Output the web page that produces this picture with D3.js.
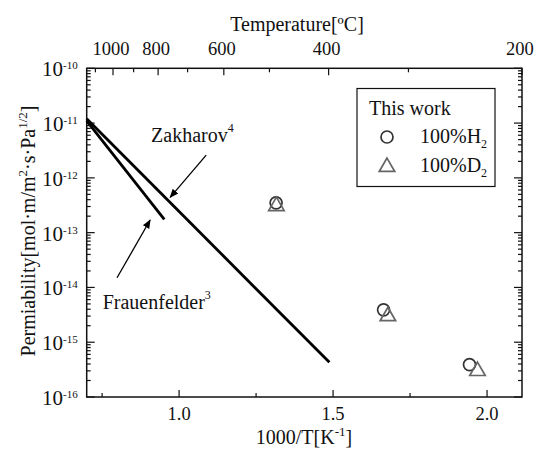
<!DOCTYPE html>
<html>
<head>
<meta charset="utf-8">
<script src="https://cdn.jsdelivr.net/npm/d3@7"></script>
<style>
  body { margin: 0; background: #fff; }
  text { font-family: "Liberation Serif", "Times New Roman", serif; fill: #111; }
</style>
</head>
<body>
<div id="chart"></div>
<script>
// measured points (This work)
var h2X = [1.315, 1.664, 1.943];
var h2Y = [3.5e-13, 3.9e-15, 3.9e-16];
var d2X = [1.316, 1.678, 1.969];
var d2Y = [3.05e-13, 2.98e-15, 2.98e-16];

// literature lines
var zakharovX = [0.7, 1.488];
var zakharovY = [1.2e-11, 4.3e-16];
var frauenX = [0.7, 0.952];
var frauenY = [1.1e-11, 1.75e-13];

// ticks
var xMajor = [1.0, 1.5, 2.0];
var xMinor = [0.75, 1.25, 1.75];
var yExp = [-16, -15, -14, -13, -12, -11, -10];
var tempMajor = [1000, 800, 600, 400, 200];
var tempMinor = [1100, 900, 700, 500, 300];

// annotations: [label, sup, textX, textY, tailX, tailY, tipX, tipY]
var notes = [
  ["Zakharov", "4", 0.909, 4.5e-12, 1.088, 2.6e-12, 0.971, 4.4e-13],
  ["Frauenfelder", "3", 0.752, 4.1e-15, 0.7985, 1.5e-14, 0.906, 1.7e-13]
];

var W = 534, H = 454;
var margin = {top: 68.3, right: 12, bottom: 57, left: 86.7};
var width = W - margin.left - margin.right,
    height = H - margin.top - margin.bottom;

var svg = d3.select("#chart").append("svg")
  .attr("width", W).attr("height", H);
var g = svg.append("g")
  .attr("transform", "translate(" + margin.left + "," + margin.top + ")");

var x = d3.scaleLinear().domain([0.7, 1000 / 473.15]).range([0, width]);
var y = d3.scaleLog().domain([1e-16, 1e-10]).range([height, 0]);
var tempToX = function(c) { return x(1000 / (c + 273.15)); };

// y minor values
var yMinor = [];
yExp.slice(0, -1).forEach(function(e) {
  for (var k = 2; k <= 9; k++) yMinor.push(k * Math.pow(10, e));
});

var tickG = g.append("g").attr("stroke", "#111").attr("stroke-width", 1.2);

// left + right ticks
yExp.forEach(function(e) {
  var yy = y(Math.pow(10, e));
  tickG.append("line").attr("x1", 0).attr("x2", 8).attr("y1", yy).attr("y2", yy);
  tickG.append("line").attr("x1", width).attr("x2", width - 8).attr("y1", yy).attr("y2", yy);
});
yMinor.forEach(function(v) {
  var yy = y(v);
  tickG.append("line").attr("x1", 0).attr("x2", 4).attr("y1", yy).attr("y2", yy);
  tickG.append("line").attr("x1", width).attr("x2", width - 4).attr("y1", yy).attr("y2", yy);
});

// bottom ticks
xMajor.forEach(function(v) {
  tickG.append("line").attr("x1", x(v)).attr("x2", x(v)).attr("y1", height).attr("y2", height - 7);
});
xMinor.forEach(function(v) {
  tickG.append("line").attr("x1", x(v)).attr("x2", x(v)).attr("y1", height).attr("y2", height - 4);
});

// top ticks (temperature)
tempMajor.forEach(function(c) {
  tickG.append("line").attr("x1", tempToX(c)).attr("x2", tempToX(c)).attr("y1", 0).attr("y2", 7);
});
tempMinor.forEach(function(c) {
  tickG.append("line").attr("x1", tempToX(c)).attr("x2", tempToX(c)).attr("y1", 0).attr("y2", 4);
});

// frame
g.append("rect").attr("width", width).attr("height", height)
  .attr("fill", "none").attr("stroke", "#111").attr("stroke-width", 1.5);

// y tick labels
yExp.forEach(function(e) {
  var t = g.append("text")
    .attr("x", -9).attr("y", y(Math.pow(10, e)) + 8)
    .attr("text-anchor", "end").style("font-size", "21px");
  t.append("tspan").text("10");
  t.append("tspan").attr("dy", -7).style("font-size", "11px").text(String(e));
});

// x tick labels
xMajor.forEach(function(v) {
  g.append("text").attr("x", x(v)).attr("y", height + 23)
    .attr("text-anchor", "middle").style("font-size", "18.5px")
    .text(d3.format(".1f")(v));
});

// top tick labels
tempMajor.forEach(function(c) {
  g.append("text").attr("x", tempToX(c) - 2).attr("y", -13)
    .attr("text-anchor", "middle").style("font-size", "18.5px")
    .text(c);
});

// axis titles
var xt = svg.append("text").attr("x", 304).attr("y", 444)
  .attr("text-anchor", "middle").style("font-size", "20px");
xt.append("tspan").text("1000/T[K");
xt.append("tspan").attr("dy", -8).style("font-size", "13px").text("-1");
xt.append("tspan").attr("dy", 8).text("]");

svg.append("text").attr("x", 297).attr("y", 31)
  .attr("text-anchor", "middle").style("font-size", "20px")
  .text("Temperature[\u00baC]");

var yt = svg.append("text")
  .attr("transform", "translate(35,231) rotate(-90)")
  .attr("text-anchor", "middle").style("font-size", "20px");
yt.append("tspan").text("Permiability[mol\u00b7m/m");
yt.append("tspan").attr("dy", -8).style("font-size", "13px").text("2");
yt.append("tspan").attr("dy", 8).text("\u00b7s\u00b7Pa");
yt.append("tspan").attr("dy", -8).style("font-size", "13px").text("1/2");
yt.append("tspan").attr("dy", 8).text("]");

// literature lines
var line = d3.line().x(function(d) { return x(d[0]); }).y(function(d) { return y(d[1]); });
[[zakharovX, zakharovY], [frauenX, frauenY]].forEach(function(s) {
  g.append("path")
    .datum(d3.zip(s[0], s[1]))
    .attr("d", line)
    .attr("fill", "none").attr("stroke", "#000").attr("stroke-width", 2.8);
});

// arrowhead
svg.append("defs").append("marker")
  .attr("id", "ah").attr("viewBox", "0 0 10 10")
  .attr("refX", 9).attr("refY", 5)
  .attr("markerWidth", 7).attr("markerHeight", 7)
  .attr("orient", "auto")
  .append("path").attr("d", "M0,1 L10,5 L0,9 Z").attr("fill", "#000");

notes.forEach(function(n) {
  g.append("line")
    .attr("x1", x(n[4])).attr("y1", y(n[5]))
    .attr("x2", x(n[6])).attr("y2", y(n[7]))
    .attr("stroke", "#000").attr("stroke-width", 1.3)
    .attr("marker-end", "url(#ah)");
  var t = g.append("text").attr("x", x(n[2])).attr("y", y(n[3]))
    .style("font-size", "20px");
  t.append("tspan").text(n[0]);
  t.append("tspan").attr("dy", -10).style("font-size", "12px").text(n[1]);
});

// data markers
var triPath = function(cx, cy, s) {
  var h = s * Math.sqrt(3) / 2;
  return "M" + cx + "," + (cy - 2 * h / 3) +
    "L" + (cx + s / 2) + "," + (cy + h / 3) +
    "L" + (cx - s / 2) + "," + (cy + h / 3) + "Z";
};

g.selectAll("circle.h2").data(d3.zip(h2X, h2Y)).enter().append("circle")
  .attr("class", "h2")
  .attr("cx", function(d) { return x(d[0]); })
  .attr("cy", function(d) { return y(d[1]); })
  .attr("r", 6)
  .attr("fill", "none").attr("stroke", "#333").attr("stroke-width", 1.7);

g.selectAll("path.d2").data(d3.zip(d2X, d2Y)).enter().append("path")
  .attr("class", "d2")
  .attr("d", function(d) { return triPath(x(d[0]), y(d[1]), 15.5); })
  .attr("fill", "none").attr("stroke", "#666").attr("stroke-width", 1.7);

// legend
var lg = svg.append("g");
lg.append("rect").attr("x", 357).attr("y", 88.5).attr("width", 138).attr("height", 98)
  .attr("fill", "#fff").attr("stroke", "#111").attr("stroke-width", 1.2);
lg.append("text").attr("x", 369).attr("y", 115).style("font-size", "20px").text("This work");
lg.append("circle").attr("cx", 387).attr("cy", 137).attr("r", 6)
  .attr("fill", "none").attr("stroke", "#333").attr("stroke-width", 1.7);
lg.append("path").attr("d", triPath(387, 167, 15.5))
  .attr("fill", "none").attr("stroke", "#666").attr("stroke-width", 1.7);
[["100%H", 143], ["100%D", 172]].forEach(function(l) {
  var t = lg.append("text").attr("x", 420).attr("y", l[1]).style("font-size", "20px");
  t.append("tspan").text(l[0]);
  t.append("tspan").attr("dy", 5).style("font-size", "12px").text("2");
});
</script>
</body>
</html>
